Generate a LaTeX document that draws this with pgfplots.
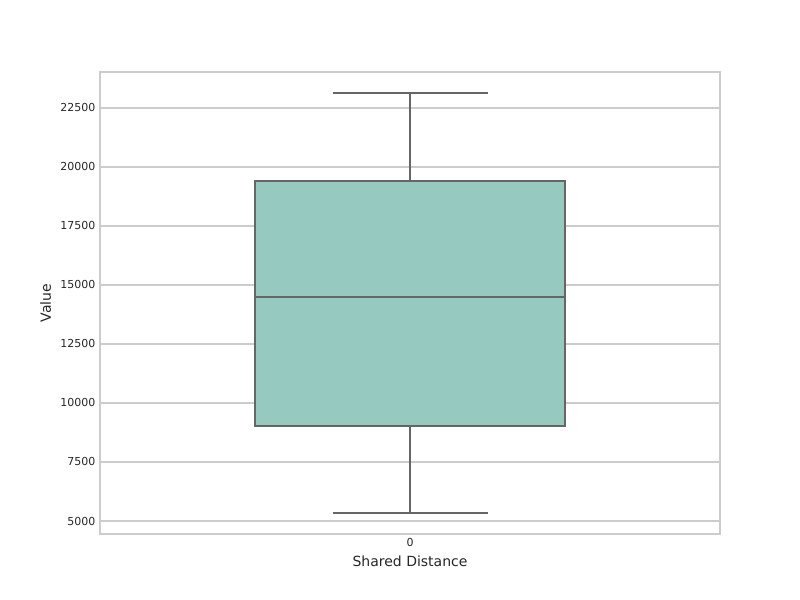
\documentclass[border=0pt]{standalone}
\usepackage{pgfplots}
\pgfplotsset{compat=1.18}
\usepgfplotslibrary{statistics}
\usepackage{fontspec}
\setmainfont{DejaVu Sans}
\definecolor{boxc}{HTML}{96CAC0}
\definecolor{linec}{HTML}{666666}
\definecolor{gridc}{HTML}{CCCCCC}
\begin{document}
\begin{tikzpicture}
\useasboundingbox (0pt,0pt) rectangle (600pt,450pt);
\begin{axis}[at={(75pt,49.5pt)},anchor=south west,scale only axis,
 width=465pt,height=346.5pt,
 xmin=-0.5,xmax=0.5,ymin=4449,ymax=24025,
 xtick={0},xticklabels={0},
 ytick={5000,7500,10000,12500,15000,17500,20000,22500},
 scaled y ticks=false,
 yticklabel style={/pgf/number format/.cd,fixed,set thousands separator={}},
 /pgf/number format/assume math mode=true,
 ticklabel style={font=\fontsize{8.25}{10}\selectfont,text=black!85},
 ymajorgrids,grid style={gridc,line width=0.8pt},
 axis line style={gridc,line width=1pt},
 major tick length=0pt,
 xlabel={Shared Distance},ylabel={Value},
 label style={font=\fontsize{10.5}{12}\selectfont,text=black!85},
 boxplot/draw direction=y,
 ]
\addplot[boxplot prepared={draw position=0,lower whisker=5339,lower quartile=9025,median=14492,upper quartile=19407,upper whisker=23136,box extend=0.5,whisker extend=0.25},
 draw=linec,line width=1.1pt,fill=boxc] coordinates {};
\end{axis}
\end{tikzpicture}
\end{document}
